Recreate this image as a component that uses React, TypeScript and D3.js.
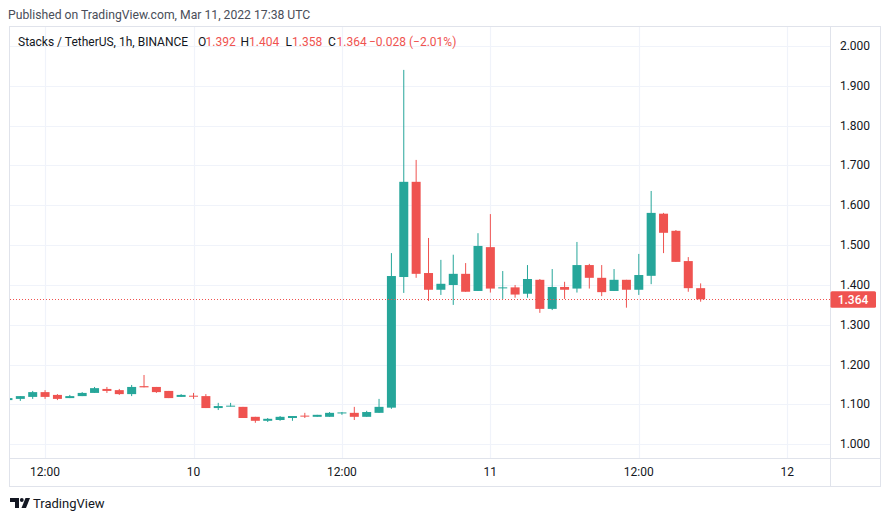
import React from "react";
import * as d3 from "d3";

// Hourly candles, first candle = Mar 9 2022 09:00 UTC
const startTime = Date.UTC(2022, 2, 9, 9);
const opens = [1.111, 1.114, 1.119, 1.131, 1.124, 1.116, 1.121, 1.129, 1.139, 1.136, 1.126, 1.146, 1.144, 1.134, 1.119, 1.122, 1.121, 1.091, 1.095, 1.094, 1.069, 1.059, 1.061, 1.066, 1.072, 1.069, 1.069, 1.078, 1.079, 1.069, 1.079, 1.092, 1.420, 1.659, 1.430, 1.388, 1.400, 1.428, 1.385, 1.495, 1.392, 1.394, 1.378, 1.413, 1.340, 1.395, 1.391, 1.450, 1.418, 1.385, 1.413, 1.388, 1.423, 1.579, 1.536, 1.460, 1.392];
const highs = [1.117, 1.121, 1.134, 1.136, 1.126, 1.124, 1.131, 1.144, 1.144, 1.139, 1.149, 1.174, 1.144, 1.134, 1.126, 1.129, 1.126, 1.104, 1.104, 1.094, 1.069, 1.066, 1.071, 1.071, 1.079, 1.074, 1.081, 1.081, 1.094, 1.084, 1.114, 1.480, 1.940, 1.714, 1.518, 1.463, 1.476, 1.455, 1.530, 1.578, 1.435, 1.400, 1.450, 1.415, 1.440, 1.408, 1.508, 1.453, 1.450, 1.440, 1.413, 1.478, 1.636, 1.581, 1.538, 1.470, 1.404];
const lows = [1.110, 1.109, 1.114, 1.114, 1.111, 1.116, 1.121, 1.129, 1.129, 1.124, 1.121, 1.143, 1.129, 1.116, 1.119, 1.114, 1.091, 1.086, 1.095, 1.066, 1.054, 1.056, 1.059, 1.059, 1.066, 1.069, 1.069, 1.074, 1.061, 1.069, 1.079, 1.089, 1.380, 1.418, 1.360, 1.375, 1.350, 1.383, 1.385, 1.381, 1.365, 1.368, 1.368, 1.330, 1.337, 1.365, 1.381, 1.391, 1.372, 1.385, 1.343, 1.375, 1.402, 1.480, 1.458, 1.383, 1.358];
const closes = [1.116, 1.121, 1.131, 1.119, 1.114, 1.121, 1.129, 1.141, 1.134, 1.126, 1.144, 1.143, 1.131, 1.116, 1.124, 1.120, 1.091, 1.096, 1.097, 1.066, 1.059, 1.064, 1.069, 1.071, 1.070, 1.074, 1.079, 1.080, 1.069, 1.081, 1.094, 1.4225, 1.659, 1.428, 1.388, 1.403, 1.428, 1.383, 1.498, 1.391, 1.394, 1.376, 1.415, 1.340, 1.395, 1.388, 1.450, 1.418, 1.382, 1.413, 1.388, 1.425, 1.581, 1.531, 1.458, 1.392, 1.364];

const priceTicks = [1.0, 1.1, 1.2, 1.3, 1.4, 1.5, 1.6, 1.7, 1.8, 1.9, 2.0];
const timeTicks = [Date.UTC(2022, 2, 9, 12), Date.UTC(2022, 2, 10, 0), Date.UTC(2022, 2, 10, 12), Date.UTC(2022, 2, 11, 0), Date.UTC(2022, 2, 11, 12), Date.UTC(2022, 2, 12, 0)];
const timeTickLabels = ["12:00", "10", "12:00", "11", "12:00", "12"];
const lastPrice = 1.364;

const UP = "#26a69a";
const DOWN = "#ef5350";
const GRID = "#f0f3fa";
const BORDER = "#e0e3eb";
const TEXT = "#131722";
const FONT = "Roboto, 'Liberation Sans', sans-serif";

export default function App() {
  const W = 890, H = 521;
  const plotL = 9.5, plotR = 830.5, plotT = 26.5, plotB = 458.5, outerB = 486.5, outerR = 880.5;

  const x = d3.scaleUtc()
    .domain([new Date(Date.UTC(2022, 2, 10, 0)), new Date(Date.UTC(2022, 2, 11, 12))])
    .range([193.5, 638.8]);
  const y = d3.scaleLinear().domain([1, 2]).range([444.3, 46]);

  const bodyW = 9;
  const candles = opens.map((o, i) => ({
    t: new Date(startTime + i * 3600000),
    o, h: highs[i], l: lows[i], c: closes[i],
  }));

  return (
    <svg width={W} height={H} style={{ position: "absolute", left: 0, top: 0, background: "#fff" }} fontFamily={FONT}>
      <defs>
        <clipPath id="plot">
          <rect x={plotL + 0.5} y={plotT + 0.5} width={plotR - plotL - 1} height={plotB - plotT - 1} />
        </clipPath>
      </defs>
      <rect x={0} y={0} width={W} height={H} fill="#fff" />
      <text x={8} y={19} fontSize={12.2} fill="#4a4e59">Published on TradingView.com, Mar 11, 2022 17:38 UTC</text>

      {/* grid */}
      <g clipPath="url(#plot)">
        {priceTicks.map((p) => (
          <line key={"h" + p} x1={plotL} x2={plotR} y1={Math.round(y(p)) + 0.5} y2={Math.round(y(p)) + 0.5} stroke={GRID} strokeWidth={1.2} />
        ))}
        {timeTicks.map((t) => (
          <line key={"v" + t} x1={Math.round(x(new Date(t))) + 0.5} x2={Math.round(x(new Date(t))) + 0.5} y1={plotT} y2={plotB} stroke={GRID} strokeWidth={1.2} />
        ))}
        {candles.map((d, i) => {
          const cx = x(d.t);
          const col = d.c >= d.o ? UP : DOWN;
          const top = y(Math.max(d.o, d.c));
          const bot = y(Math.min(d.o, d.c));
          return (
            <g key={i}>
              <line x1={cx} x2={cx} y1={y(d.h)} y2={y(d.l)} stroke={col} strokeWidth={1} />
              <rect x={cx - bodyW / 2} y={top} width={bodyW} height={Math.max(1, bot - top)} fill={col} />
            </g>
          );
        })}
        <line x1={10} x2={plotR} y1={Math.round(y(lastPrice)) + 0.5} y2={Math.round(y(lastPrice)) + 0.5} stroke={DOWN} strokeWidth={1} strokeDasharray="1,2" />
      </g>

      {/* frame */}
      <rect x={plotL} y={plotT} width={outerR - plotL} height={outerB - plotT} fill="none" stroke={BORDER} strokeWidth={1} />
      <line x1={plotL} x2={outerR} y1={plotB} y2={plotB} stroke={BORDER} strokeWidth={1} />
      <line x1={plotR} x2={plotR} y1={plotT} y2={outerB} stroke={BORDER} strokeWidth={1} />

      {/* legend */}
      <text x={18} y={46} fontSize={12} fill={TEXT}>
        <tspan>Stacks / TetherUS, 1h, BINANCE</tspan>
        <tspan x={198}>O</tspan>
        <tspan x={205.5} fill={DOWN}>1.392</tspan>
        <tspan x={240.5}>H</tspan>
        <tspan x={249} fill={DOWN}>1.404</tspan>
        <tspan x={285.5}>L</tspan>
        <tspan x={292} fill={DOWN}>1.358</tspan>
        <tspan x={328}>C</tspan>
        <tspan x={336.5} fill={DOWN}>1.364</tspan>
        <tspan x={369} fill={DOWN}>−0.028 (−2.01%)</tspan>
      </text>

      {/* price axis */}
      {priceTicks.map((p) => (
        <text key={"pt" + p} x={855} y={y(p) + 4} fontSize={12} fill={TEXT} textAnchor="middle">{p.toFixed(3)}</text>
      ))}
      <rect x={830.5} y={y(lastPrice) - 8} width={45.5} height={16.5} rx={1.5} fill={DOWN} />
      <text x={853} y={y(lastPrice) + 4.2} fontSize={12} fontWeight={500} fill="#fff" textAnchor="middle">{lastPrice.toFixed(3)}</text>

      {/* time axis */}
      {timeTicks.map((t, i) => (
        <text key={"tt" + t} x={x(new Date(t))} y={476} fontSize={12} fill={TEXT} textAnchor="middle">{timeTickLabels[i]}</text>
      ))}

      {/* logo */}
      <g fill={TEXT}>
        <path d="M10 498 H19 V508 H15 V502 H10 Z" />
        <circle cx={21.8} cy={500} r={1.9} />
        <path d="M25.5 498 H30 L26 508 H21.5 Z" />
      </g>
      <text x={33} y={508} fontSize={13} fill={TEXT}>TradingView</text>
    </svg>
  );
}
